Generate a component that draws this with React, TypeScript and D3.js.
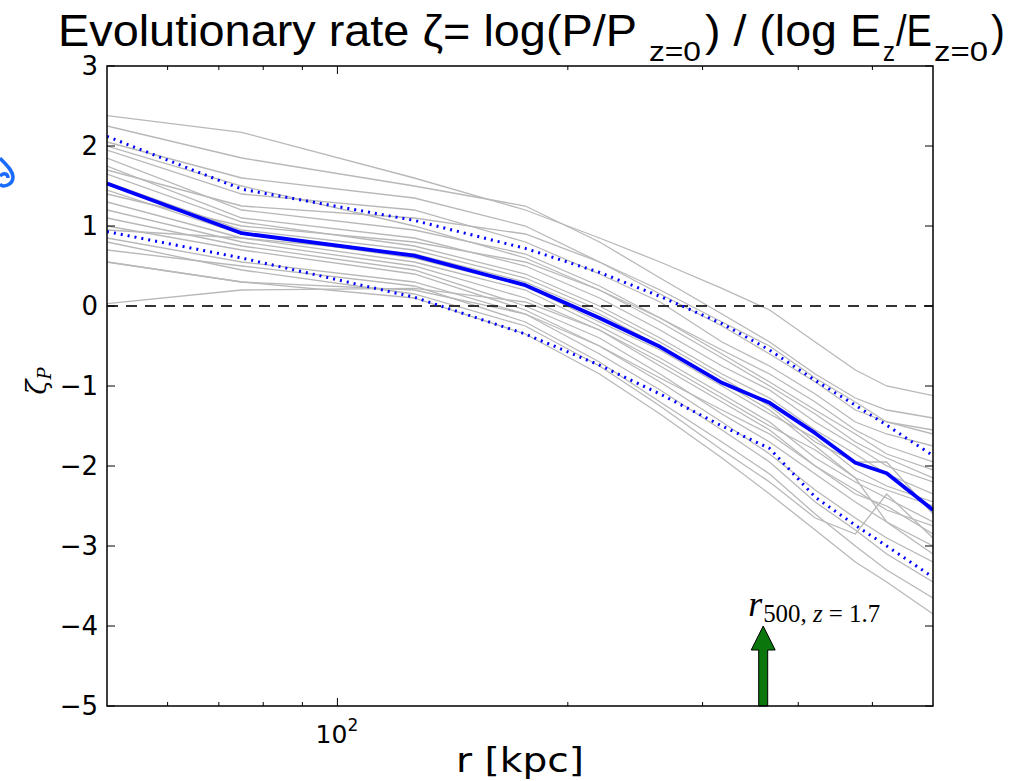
import React from "react";
import * as d3 from "d3";

// radial grid (kpc)
const radii = [50, 75, 126, 176, 220, 264, 318, 367, 421, 475, 522, 600];

const median = [1.53, 0.91, 0.63, 0.26, -0.15, -0.51, -0.96, -1.21, -1.59, -1.96, -2.09, -2.55];
const upper = [2.12, 1.46, 1.07, 0.72, 0.42, 0.12, -0.22, -0.55, -0.93, -1.24, -1.49, -1.87];
const lower = [0.93, 0.6, 0.11, -0.35, -0.74, -1.1, -1.5, -1.78, -2.39, -2.74, -3.0, -3.39];

const g1 = [2.38, 2.17, 1.6, 1.2, 0.85, 0.55, 0.22, -0.05, -0.45, -0.8, -1.0, -1.12];
const g2 = [2.25, 1.85, 1.5, 1.25, 0.8, 0.35, -0.1, -0.45, -0.85, -1.15, -1.3, -1.4];
const g3 = [2.05, 1.6, 1.35, 1.0, 0.55, 0.15, -0.25, -0.6, -0.95, -1.3, -1.45, -1.6];
const g4 = [1.95, 1.4, 1.2, 0.8, 0.4, 0.05, -0.45, -0.75, -1.1, -1.45, -1.6, -1.75];
const g5 = [1.85, 1.2, 0.95, 0.65, 0.25, -0.15, -0.6, -0.95, -1.3, -1.6, -1.85, -2.05];
const g6 = [1.75, 1.1, 0.85, 0.5, 0.1, -0.3, -0.75, -1.05, -1.45, -1.75, -2.0, -2.2];
const g7 = [1.65, 1.05, 0.75, 0.4, 0.0, -0.4, -0.85, -1.15, -1.55, -1.85, -2.1, -2.35];
const g8 = [1.55, 0.95, 0.7, 0.35, -0.05, -0.45, -0.9, -1.25, -1.7, -1.95, -1.95, -2.6];
const g9 = [1.45, 0.9, 0.6, 0.25, -0.2, -0.55, -1.0, -1.35, -1.65, -2.05, -2.25, -2.45];
const g10 = [1.3, 0.85, 0.55, 0.2, -0.25, -0.65, -1.1, -1.45, -1.9, -2.2, -2.4, -2.7];
const g11 = [1.2, 0.8, 0.5, 0.1, -0.3, -0.75, -1.2, -1.55, -2.0, -2.35, -2.5, -2.85];
const g12 = [1.1, 0.75, 0.45, 0.0, -0.4, -0.85, -1.35, -1.7, -2.1, -2.45, -2.7, -3.0];
const g13 = [1.0, 0.7, 0.4, -0.05, -0.5, -0.95, -1.45, -1.85, -2.3, -2.65, -2.9, -3.2];
const g14 = [0.85, 0.55, 0.3, -0.1, -0.6, -1.05, -1.55, -1.95, -2.45, -2.8, -3.1, -3.45];
const g15 = [0.7, 0.5, 0.25, -0.2, -0.7, -1.2, -1.7, -2.1, -2.6, -3.0, -3.3, -3.65];
const g16 = [0.55, 0.3, 0.1, -0.35, -0.85, -1.35, -1.9, -2.35, -2.8, -3.2, -3.45, -3.85];
const g17 = [0.03, 0.2, 0.22, 0.05, -0.3, -0.7, -1.15, -1.5, -1.8, -2.15, -2.3, -2.5];
const g18 = [0.55, 0.3, 0.2, -0.1, -0.5, -0.9, -1.3, -1.6, -2.0, -2.3, -2.55, -2.75];
const g19 = [2.0, 1.5, 1.0, 0.6, 0.2, -0.2, -0.65, -1.0, -1.35, -1.7, -1.9, -2.15];
const g20 = [1.4, 1.0, 0.8, 0.55, 0.2, -0.15, -0.55, -0.85, -1.2, -1.55, -1.75, -1.95];
const g21 = [0.95, 0.85, 0.65, 0.3, -0.1, -0.5, -0.95, -1.3, -1.75, -2.15, -2.7, -3.1];
const g22 = [1.7, 1.25, 1.1, 0.9, 0.55, 0.2, -0.2, -0.5, -0.9, -1.2, -1.45, -1.55];
const g23 = [0.8, 0.45, 0.15, -0.25, -0.75, -1.25, -1.8, -2.2, -2.65, -2.85, -2.35, -2.9];
const grayLines = [g1, g2, g3, g4, g5, g6, g7, g8, g9, g10, g11, g12, g13, g14, g15, g16, g17, g18, g19, g20, g21, g22, g23];

const yTicks = [3, 2, 1, 0, -1, -2, -3, -4, -5];
const xMajor = [100];
const xMinor = [60, 70, 80, 90, 200, 300, 400, 500];
const r500 = 360;
const arrowTip = -4.0;

const W = 1010, H = 781;
const L = 107, R = 933, T = 66, B = 706;

export default function App() {
  const x = d3.scaleLog().domain([50, 600]).range([L, R]);
  const y = d3.scaleLinear().domain([-5, 3]).range([B, T]);
  const line = d3.line<number>().x((_, i) => x(radii[i])).y((d) => y(d));
  const fmt = (v: number) => (v < 0 ? "\u2212" + Math.abs(v) : String(v));
  const ax = x(r500);
  const tipY = y(arrowTip);
  const headBase = tipY + 24;

  return (
    <svg width={W} height={H} style={{ position: "absolute", left: 0, top: 0, background: "#fff" }}>
      <rect width={W} height={H} fill="#fff" />
      {/* title */}
      <g fontFamily="Liberation Sans, Arial, sans-serif" fill="#000">
        <text x={58} y={46} fontSize={45} textLength={579} lengthAdjust="spacingAndGlyphs">Evolutionary rate ζ= log(P/P</text>
        <text x={649} y={61} fontSize={27} textLength={52} lengthAdjust="spacingAndGlyphs">z=0</text>
        <text x={705} y={46} fontSize={45} textLength={176} lengthAdjust="spacingAndGlyphs">) / (log E</text>
        <text x={883} y={61} fontSize={27} textLength={12} lengthAdjust="spacingAndGlyphs">z</text>
        <text x={896} y={46} fontSize={45} textLength={36} lengthAdjust="spacingAndGlyphs">/E</text>
        <text x={934} y={61} fontSize={27} textLength={54} lengthAdjust="spacingAndGlyphs">z=0</text>
        <text x={991} y={46} fontSize={45} textLength={14} lengthAdjust="spacingAndGlyphs">)</text>
      </g>
      {/* blue mark at left */}
      <path d="M0,158 C5,164 13,170 13,177 C13,185 3,188 0,184 M0,176 C4,172 8,174 8,178" fill="none" stroke="#1a6cff" strokeWidth={3.5} />

      <defs>
        <clipPath id="plotclip">
          <rect x={L} y={T} width={R - L} height={B - T} />
        </clipPath>
      </defs>
      <g clipPath="url(#plotclip)">
        {grayLines.map((g, i) => (
          <path key={i} d={line(g) || ""} fill="none" stroke="#b8b8b8" strokeWidth={1.3} />
        ))}
        <line x1={L} x2={R} y1={y(0)} y2={y(0)} stroke="#333" strokeWidth={2} strokeDasharray="11 8" />
        <path d={line(upper) || ""} fill="none" stroke="#0000ff" strokeWidth={3} strokeDasharray="2 5" />
        <path d={line(lower) || ""} fill="none" stroke="#0000ff" strokeWidth={3} strokeDasharray="2 5" />
        <path d={line(median) || ""} fill="none" stroke="#0000ff" strokeWidth={3.8} strokeLinejoin="round" />
      </g>

      {/* arrow */}
      <path
        d={`M${ax - 4.5},${B} L${ax - 4.5},${headBase} L${ax - 12},${headBase} L${ax},${tipY} L${ax + 12},${headBase} L${ax + 4.5},${headBase} L${ax + 4.5},${B} Z`}
        fill="#0b760b"
        stroke="#000"
        strokeWidth={1}
      />
      <text x={ax - 15} y={616} fontFamily="Liberation Serif, serif" fontStyle="italic" fontSize={36}>r</text>
      <text x={ax} y={622} fontFamily="Liberation Serif, serif" fontSize={25} textLength={117} lengthAdjust="spacingAndGlyphs">
        500, <tspan fontStyle="italic">z</tspan> = 1.7
      </text>

      {/* frame */}
      <rect x={L} y={T} width={R - L} height={B - T} fill="none" stroke="#000" strokeWidth={1.5} />
      {/* y ticks */}
      {yTicks.map((t) => (
        <g key={t}>
          <line x1={L} x2={L + 8} y1={y(t)} y2={y(t)} stroke="#000" strokeWidth={1} />
          <line x1={R} x2={R - 8} y1={y(t)} y2={y(t)} stroke="#000" strokeWidth={1} />
          <text x={98} y={y(t) + 9} textAnchor="end" fontFamily="DejaVu Sans, sans-serif" fontSize={26}>{fmt(t)}</text>
        </g>
      ))}
      {/* x ticks */}
      {xMajor.map((t) => (
        <g key={t}>
          <line x1={x(t)} x2={x(t)} y1={B} y2={B - 8} stroke="#000" strokeWidth={1} />
          <line x1={x(t)} x2={x(t)} y1={T} y2={T + 8} stroke="#000" strokeWidth={1} />
          <text x={x(t) - 6} y={743} textAnchor="middle" fontFamily="DejaVu Sans, sans-serif" fontSize={25}>10</text>
          <text x={x(t) + 10} y={731} fontFamily="DejaVu Sans, sans-serif" fontSize={17}>2</text>
        </g>
      ))}
      {xMinor.map((t) => (
        <g key={t}>
          <line x1={x(t)} x2={x(t)} y1={B} y2={B - 4} stroke="#000" strokeWidth={1} />
          <line x1={x(t)} x2={x(t)} y1={T} y2={T + 4} stroke="#000" strokeWidth={1} />
        </g>
      ))}
      <text x={456} y={772} fontFamily="DejaVu Sans, sans-serif" fontSize={33} textLength={128} lengthAdjust="spacingAndGlyphs">r [kpc]</text>
      <text transform="translate(46,381) rotate(-90)" textAnchor="middle" fontFamily="DejaVu Serif, serif" fontStyle="italic" fontSize={28}>
        ζ<tspan fontSize={18} dy={5}>P</tspan>
      </text>
    </svg>
  );
}
